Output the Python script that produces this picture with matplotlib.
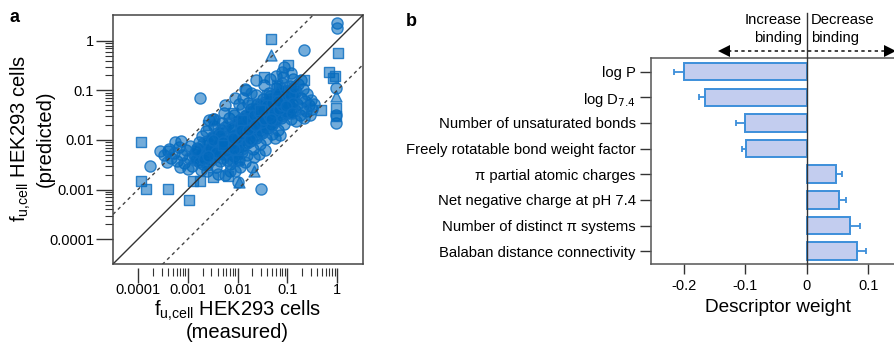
import numpy as np
import matplotlib
matplotlib.use("Agg")
import matplotlib.pyplot as plt
import matplotlib.ticker as mticker
import matplotlib.transforms as mtransforms

plt.rcParams['font.family'] = ['Liberation Sans', 'DejaVu Sans']

# ---------------- Panel a data (log10 of fu,cell: measured x, predicted y) ----------------
circ_lx = [-3.76, -3.39, -3.13, -2.76, -2.49, -1.83, -1.63, -1.09, -1.06, -0.66,
           0.0, 0.0, -1.53, -0.03, -0.03, -0.03,
           -3.55, -3.47, -3.38, -3.33, -3.27, -3.22, -3.18, -3.12, -3.08, -3.03,
           -2.98, -2.95, -2.91, -2.87, -2.84, -3.25, -3.42, -2.99, -2.82, -3.15,
           -2.78, -2.75, -2.72, -2.69, -2.66, -2.63, -2.61, -2.58, -2.55, -2.52,
           -2.49, -2.47, -2.44, -2.41, -2.38, -2.36, -2.33, -2.31, -2.28, -2.25,
           -2.23, -2.20, -2.18, -2.15, -2.13, -2.10, -2.08, -2.05, -2.03, -2.00,
           -1.98, -1.96, -1.93, -1.91, -1.89, -2.74, -2.57, -2.46, -2.35, -2.27,
           -2.16, -2.07, -1.99, -2.62, -2.40, -2.12, -1.95, -2.52, -2.30, -2.22,
           -1.87, -1.85, -1.82, -1.80, -1.77, -1.75, -1.72, -1.70, -1.68, -1.65,
           -1.63, -1.60, -1.58, -1.55, -1.53, -1.50, -1.48, -1.46, -1.43, -1.41,
           -1.38, -1.36, -1.33, -1.31, -1.28, -1.26, -1.23, -1.21, -1.18, -1.16,
           -1.13, -1.11, -1.08, -1.06, -1.03, -1.01, -1.84, -1.66, -1.52, -1.44,
           -1.34, -1.24, -1.14, -1.04, -1.78, -1.62, -1.47, -1.35, -1.22, -1.10,
           -1.70, -1.57, -1.90, -1.40, -1.29, -1.19, -1.74, -1.60, -1.50, -1.30,
           -1.15, -1.97, -1.88,
           -0.98, -0.95, -0.93, -0.90, -0.88, -0.85, -0.83, -0.80, -0.78, -0.75,
           -0.73, -0.70, -0.68, -0.65, -0.62, -0.60, -0.57, -0.53, -0.50, -0.47,
           -0.92, -0.82, -0.72, -0.67, -0.55, -0.97,
           -2.48, -2.25, -2.05, -1.85, -1.72]
circ_ly = [-2.53, -2.22, -2.02, -1.15, -1.58, -0.99, -0.79, -0.72, -0.52, -0.19,
           0.35, 0.25, -2.99, -1.65, -0.95, -1.50,
           -2.22, -2.31, -2.19, -2.36, -2.27, -2.42, -2.14, -2.30, -2.47, -2.21,
           -2.37, -2.12, -2.52, -2.28, -2.41, -2.05, -2.45, -2.58, -2.16, -2.55,
           -2.05, -2.33, -1.92, -2.48, -2.21, -1.81, -2.62, -2.09, -2.38, -1.95,
           -2.27, -1.72, -2.55, -2.12, -1.88, -2.43, -2.01, -1.66, -2.29, -2.71,
           -1.93, -2.17, -1.55, -2.48, -2.04, -1.79, -2.33, -2.62, -1.91, -2.14,
           -1.62, -2.41, -1.98, -2.24, -1.75, -2.60, -1.60, -2.00, -2.20, -1.45,
           -2.62, -1.50, -2.85, -2.50, -2.68, -2.25, -2.55, -2.15, -1.85, -2.40,
           -2.10, -1.52, -1.86, -2.30, -1.69, -2.02, -1.38, -1.83, -2.18, -1.58,
           -1.95, -1.27, -1.72, -2.08, -1.45, -1.86, -1.18, -1.62, -1.99, -1.34,
           -1.75, -1.05, -1.52, -1.88, -1.22, -1.63, -0.95, -1.40, -1.79, -1.12,
           -1.55, -0.86, -1.30, -1.68, -1.02, -1.45, -2.45, -2.35, -1.65, -2.20,
           -1.12, -1.95, -1.38, -1.20, -1.25, -1.10, -0.90, -0.78, -0.70, -0.62,
           -2.55, -2.28, -1.35, -1.60, -1.48, -1.25, -1.50, -1.80, -1.30, -1.70,
           -1.90, -1.28, -1.15,
           -1.25, -0.92, -1.58, -1.10, -0.78, -1.40, -1.02, -1.28, -0.88, -1.50,
           -1.15, -1.35, -0.98, -1.22, -1.42, -1.08, -1.30, -1.20, -1.38, -1.27,
           -0.65, -1.62, -0.80, -1.55, -1.50, -1.45,
           -1.58, -1.30, -1.15, -0.98, -1.05]

# dense core of the cloud (circles)
core_lx = [-2.86, -2.81, -2.77, -2.73, -2.70, -2.65, -2.62, -2.59, -2.54, -2.51,
           -2.48, -2.45, -2.42, -2.39, -2.37, -2.34, -2.32, -2.29, -2.26, -2.24,
           -2.21, -2.19, -2.17, -2.14, -2.11, -2.09, -2.06, -2.04, -2.02, -1.99,
           -1.97, -1.94, -1.92, -1.90, -1.88, -1.86, -1.83, -1.81, -1.79, -1.76,
           -1.74, -1.71, -1.69, -1.67, -1.64, -1.62, -1.59, -1.57, -1.54, -1.52,
           -1.49, -1.47, -1.45, -1.42, -1.39, -1.37, -1.35, -1.32, -1.30, -1.27,
           -1.25, -1.22, -1.20, -1.17, -1.15, -1.12, -1.09, -1.07, -1.05, -1.02,
           -0.99, -0.96, -0.94, -0.91, -0.87, -0.84,
           -2.84, -2.68, -2.56, -2.43, -2.35, -2.27, -2.18, -2.13, -2.07, -2.01,
           -1.95, -1.91, -1.85, -1.80, -1.75, -1.70, -1.66, -1.61, -1.56, -1.51,
           -1.46, -1.41, -1.36, -1.31, -1.26, -1.21, -1.16, -1.11, -1.06, -1.00,
           -0.95, -0.89, -0.86, -2.60, -2.50, -2.30, -2.10, -1.93, -1.78, -1.64,
           -1.48, -1.33, -1.18, -1.03, -0.90]
core_ly = [-2.36, -2.18, -2.44, -2.27, -2.06, -2.31, -2.02, -2.23, -2.41, -1.94,
           -2.19, -2.33, -1.86, -2.08, -2.26, -1.80, -2.12, -2.37, -1.74, -2.03,
           -2.22, -1.68, -1.94, -2.16, -2.41, -1.71, -1.90, -2.08, -2.28, -1.62,
           -1.85, -2.02, -1.57, -2.19, -1.78, -1.93, -1.49, -2.07, -1.72, -1.88,
           -1.43, -2.00, -1.66, -1.81, -1.37, -1.92, -1.60, -1.76, -1.30, -1.84,
           -1.52, -1.69, -1.24, -1.77, -1.46, -1.61, -1.18, -1.70, -1.37, -1.52,
           -1.13, -1.60, -1.29, -1.45, -1.07, -1.51, -1.21, -1.37, -1.02, -1.43,
           -1.13, -1.30, -1.00, -1.36, -1.18, -1.05,
           -2.20, -2.38, -2.16, -2.24, -1.90, -2.10, -2.00, -1.76, -2.18, -1.95,
           -1.70, -1.88, -1.82, -1.58, -1.98, -1.75, -1.50, -1.68, -1.44, -1.63,
           -1.58, -1.30, -1.52, -1.25, -1.44, -1.18, -1.38, -1.30, -1.15, -1.28,
           -1.10, -1.25, -0.93, -2.32, -2.00, -2.05, -1.96, -1.80, -1.80, -1.70,
           -1.40, -1.58, -1.22, -1.32, -1.45]

sq_lx = [-1.33, 0.01, -0.16, -0.09, -0.33, -0.03, -0.03, -3.93, -3.93, -3.83,
         -3.39, -2.97, -2.89, -2.76, -2.49, -2.19, -1.46, -0.99, -0.66, -2.09,
         -1.16, -2.60, -2.30, -1.90, -1.70, -1.40, -1.20, -2.00, -1.55, -0.05]
sq_ly = [0.03, -0.25, -0.62, -0.75, -1.39, -1.35, -1.52, -2.05, -2.82, -2.99,
         -2.99, -3.21, -2.82, -2.82, -2.75, -2.72, -0.72, -0.49, -0.79, -1.45,
         -0.95, -1.70, -2.10, -1.60, -1.30, -1.10, -0.90, -2.40, -1.40, -0.70]

tri_lx = [-1.33, -0.03, -1.66, -1.96, -2.45, -1.20]
tri_ly = [-0.29, -1.12, -2.62, -2.85, -1.60, -1.00]

ref_ticks = [1e-4, 1e-3, 1e-2, 1e-1, 1]
ref_labels = ['0.0001', '0.001', '0.01', '0.1', '1']

# ---------------- Panel b data ----------------
descriptors = ['log P', 'log D$_{7.4}$', 'Number of unsaturated bonds',
               'Freely rotatable bond weight factor', '\u03c0 partial atomic charges',
               'Net negative charge at pH 7.4', 'Number of distinct \u03c0 systems',
               'Balaban distance connectivity']
weights = [-0.200, -0.165, -0.101, -0.098, 0.047, 0.053, 0.070, 0.082]
errors = [0.016, 0.010, 0.014, 0.007, 0.011, 0.011, 0.017, 0.014]
xticks_b = [-0.2, -0.1, 0, 0.1]
xtick_labels_b = ['-0.2', '-0.1', '0', '0.1']

# ---------------- Figure ----------------
W, H = 895, 342
fig = plt.figure(figsize=(W / 100, H / 100), dpi=100)

def fx(px):
    return px / W

def fy(py):
    return 1 - py / H

blue_edge = (0.06, 0.44, 0.76, 0.85)
blue_face = (0.0, 0.41, 0.74, 0.55)

# Panel a
axa = fig.add_axes([fx(113), fy(264), fx(250), (264 - 15) / H])
lo, hi = 10 ** -4.5, 10 ** 0.52
axa.set_xscale('log')
axa.set_yscale('log')
axa.set_xlim(lo, hi)
axa.set_ylim(lo, hi)

xs = np.array([lo, hi])
axa.plot(xs, xs, color='#333333', lw=1.0, zorder=3)
axa.plot(xs, xs * 10, color='#444444', lw=1.0, ls=(0, (2.5, 2.5)), zorder=3)
axa.plot(xs, xs / 10, color='#444444', lw=1.0, ls=(0, (2.5, 2.5)), zorder=3)

for lx, ly, mk, sz in ((circ_lx, circ_ly, 'o', 64), (core_lx, core_ly, 'o', 64),
                       (sq_lx, sq_ly, 's', 60), (tri_lx, tri_ly, '^', 62)):
    axa.scatter(10 ** np.array(lx), 10 ** np.array(ly), s=sz, marker=mk,
                facecolor=blue_face, edgecolor=blue_edge, linewidth=1.0, zorder=2)

minors = [m * 10 ** e for e in range(-4, 0) for m in range(2, 10)]
for axis in (axa.xaxis, axa.yaxis):
    axis.set_ticks(ref_ticks)
    axis.set_ticklabels(ref_labels)
    axis.set_ticks(minors, minor=True)
    axis.set_minor_formatter(mticker.NullFormatter())
axa.tick_params(which='major', length=12, width=1.0, color='#333333',
                labelsize=10.5, pad=1.5)
axa.tick_params(which='minor', length=6, width=0.8, color='#333333')
axa.tick_params(axis='x', which='major', length=11, pad=0)
for sp in axa.spines.values():
    sp.set_color('#444444')
    sp.set_linewidth(1.1)
axa.spines['bottom'].set_position(('outward', 3))
axa.spines['bottom'].set_color('none')
axa.plot([0, 1], [0, 0], transform=axa.transAxes, color='#444444', lw=1.1,
         clip_on=False, zorder=4)

flabel = 'f$_{\\mathregular{u{,}cell}}$ HEK293 cells'
fig.text(fx(237), fy(316), flabel, ha='center', va='baseline', fontsize=14.5)
fig.text(fx(237), fy(338), '(measured)', ha='center', va='baseline', fontsize=14.5)
fig.text(fx(21), fy(139), flabel, ha='center', va='center', fontsize=14.5,
         rotation=90)
fig.text(fx(45), fy(139), '(predicted)', ha='center', va='center', fontsize=14.5,
         rotation=90)
fig.text(fx(10), fy(18), 'a', ha='left', va='center', fontsize=13, fontweight='bold')
fig.text(fx(406), fy(22), 'b', ha='left', va='center', fontsize=13, fontweight='bold')

# Panel b
x0_px, xscale = 806.7, 615.0
left_val = (651 - x0_px) / xscale
right_val = (905 - x0_px) / xscale
axb = fig.add_axes([fx(651), fy(264), fx(905 - 651), (264 - 58) / H])
ypos = np.arange(len(descriptors))
xerr = [[e if w < 0 else 0 for w, e in zip(weights, errors)],
        [e if w > 0 else 0 for w, e in zip(weights, errors)]]
axb.barh(ypos, weights, height=0.68, color='#c3cdef', edgecolor='#3d8fda',
         linewidth=1.4, zorder=2)
axb.errorbar(weights, ypos, xerr=xerr, fmt='none', ecolor='#3d8fda',
             elinewidth=1.3, capsize=2.5, capthick=1.3, zorder=3)
axb.set_ylim(len(descriptors) - 0.5, -0.5 - 0.03)
axb.set_xlim(left_val, right_val)
axb.set_yticks(ypos)
axb.set_yticklabels(descriptors)
axb.set_xticks(xticks_b)
axb.set_xticklabels(xtick_labels_b)
axb.tick_params(axis='y', length=8, width=1.0, labelsize=10.7, pad=3, color='#333333')
axb.tick_params(axis='x', length=7, width=1.0, labelsize=10.5, pad=4, color='#333333')
for sp in axb.spines.values():
    sp.set_color('#555555')
    sp.set_linewidth(1.1)
axb.spines['right'].set_visible(False)
axb.set_xlabel('Descriptor weight', fontsize=13.7, labelpad=4)

trans = mtransforms.blended_transform_factory(axb.transData, axb.transAxes)
axh = 264 - 58

def ay(py):
    return (264 - py) / axh

axb.plot([0, 0], [0, ay(13)], transform=trans, color='#333333', lw=1.0,
         clip_on=False, zorder=4)
arr_y = ay(51)
axb.plot([-0.128, 0.128], [arr_y, arr_y], transform=trans, color='#222222',
         lw=1.2, ls=(0, (2, 2)), clip_on=False)
axb.plot([-0.135], [arr_y], transform=trans, marker='<', ms=8, color='black',
         clip_on=False, mew=0)
axb.plot([0.135], [arr_y], transform=trans, marker='>', ms=8, color='black',
         clip_on=False, mew=0)
axb.text(-0.008, ay(20), 'Increase', transform=trans, ha='right', va='center',
         fontsize=10.7)
axb.text(-0.008, ay(38), 'binding', transform=trans, ha='right', va='center',
         fontsize=10.7)
axb.text(0.007, ay(20), 'Decrease', transform=trans, ha='left', va='center',
         fontsize=10.7)
axb.text(0.007, ay(38), 'binding', transform=trans, ha='left', va='center',
         fontsize=10.7)

fig.savefig('out.png', dpi=100)
